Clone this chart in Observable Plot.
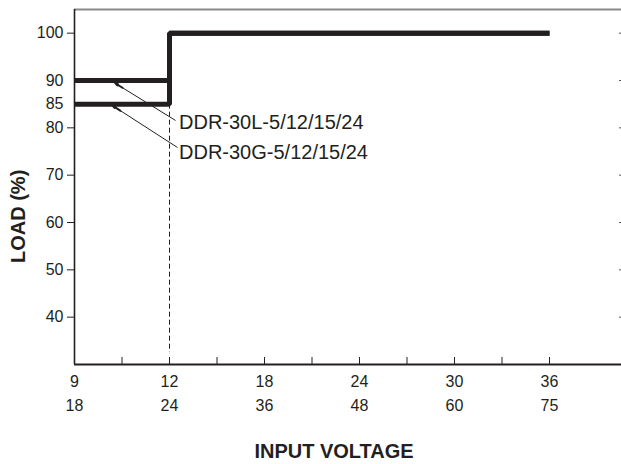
<!DOCTYPE html>
<html>
<head>
<meta charset="utf-8">
<script src="https://cdn.jsdelivr.net/npm/d3@7"></script>
<script src="https://cdn.jsdelivr.net/npm/@observablehq/plot@0.6"></script>
<style>
  html, body { margin: 0; padding: 0; background: #fff; overflow: hidden; }
  svg { display: block; max-width: none !important; }
</style>
</head>
<body>
<script>
// ---- data ----
const lowV = [9, 12, 18, 24, 30, 36];          // upper tick-label row
const highV = [18, 24, 36, 48, 60, 75];        // lower tick-label row
const minorTicks = [0, 0.5, 1, 1.5, 2, 2.5, 3, 3.5, 4, 4.5, 5]; // tick index positions
const yLabels = [40, 50, 60, 70, 80, 85, 90, 100];
const yTicksLeft = [40, 50, 60, 70, 80, 100];
const yTicksRight = [40, 50, 60, 70, 80, 90, 100];

const voltage = [9, 12, 36];
const loadL = [90, 100, 100];
const loadG = [85, 100, 100];
const models = ["DDR-30L-5/12/15/24", "DDR-30G-5/12/15/24"];

const thresholdV = [12];
const thresholdLoad = [85, 32.5];   // dashed guide from/to

// annotation anchors (x in tick-index units, y in load %)
const tipX = [0.43, 0.40], tipY = [89.4, 84.7];
const tailX = [1.06, 1.08], tailY = [81.6, 75.9];
const labelX = [1.10, 1.10], labelY = [81.1, 74.8];
const yTitleY = 61.3;

// ---- helpers ----
const idx = v => lowV.indexOf(v);
const rows = voltage.map((v, i) => ({v, L: loadL[i], G: loadG[i]}));
const notes = models.map((m, i) => ({
  m, tx: tipX[i], ty: tipY[i], sx: tailX[i], sy: tailY[i], lx: labelX[i], ly: labelY[i],
  hx: tipX[i] + 0.12 * (tailX[i] - tipX[i]), hy: tipY[i] + 0.12 * (tailY[i] - tipY[i])
}));
const ink = "#231f20";
const font = "'Liberation Sans', Arial, Helvetica, sans-serif";

const chart = Plot.plot({
  width: 632,
  height: 464,
  marginLeft: 74,
  marginRight: 7,
  marginTop: 9,
  marginBottom: 100,
  x: {domain: [0, 5.8], axis: null},
  y: {domain: [30, 105], axis: null},
  style: {fontFamily: font, color: ink, background: "#fff", maxWidth: "none"},
  marks: [
    // frame pieces
    Plot.ruleY([105], {stroke: "#8a8a8a", strokeWidth: 2}),
    Plot.ruleX([0], {stroke: ink, strokeWidth: 1.6}),
    Plot.ruleY([30], {stroke: ink, strokeWidth: 1.8}),
    // y axis ticks + labels
    Plot.axisY(yTicksLeft, {anchor: "left", tickSize: 7, tickFormat: () => "", label: null, stroke: ink}),
    Plot.axisY(yLabels, {anchor: "left", tickSize: 0, tickPadding: 11, fontSize: 16, label: null, fill: ink}),
    Plot.axisY(yTicksRight, {anchor: "right", tickSize: -7, tickFormat: () => "", label: null, stroke: "#555"}),
    // x axis ticks + two label rows
    Plot.axisX(minorTicks, {anchor: "bottom", tickSize: -7, tickFormat: () => "", label: null, stroke: ink}),
    Plot.axisX(lowV.map((_, i) => i), {anchor: "bottom", tickSize: 0, tickPadding: 11, tickFormat: i => lowV[i], fontSize: 16, label: null, fill: ink}),
    Plot.axisX(highV.map((_, i) => i), {anchor: "bottom", tickSize: 0, tickPadding: 35, tickFormat: i => highV[i], fontSize: 16, label: null, fill: ink}),
    // dashed guide
    Plot.ruleX(thresholdV, {x: idx, y1: thresholdLoad[0], y2: thresholdLoad[1], stroke: ink, strokeWidth: 1, strokeDasharray: "5,3"}),
    // load curves
    Plot.line(rows, {x: d => idx(d.v), y: "G", curve: "step-after", stroke: ink, strokeWidth: 5, strokeLinejoin: "miter", strokeLinecap: "butt"}),
    Plot.line(rows, {x: d => idx(d.v), y: "L", curve: "step-after", stroke: ink, strokeWidth: 5, strokeLinejoin: "miter", strokeLinecap: "butt"}),
    // annotations: thin leader + heavier head
    Plot.arrow(notes, {x1: "sx", y1: "sy", x2: "tx", y2: "ty", stroke: ink, strokeWidth: 1, headLength: 0}),
    Plot.arrow(notes, {x1: "hx", y1: "hy", x2: "tx", y2: "ty", stroke: ink, strokeWidth: 2, headLength: 8, headAngle: 32, strokeLinejoin: "miter"}),
    Plot.text(notes, {x: "lx", y: "ly", text: "m", textAnchor: "start", fontSize: 20, fill: ink}),
    // axis titles
    Plot.text(["INPUT VOLTAGE"], {frameAnchor: "bottom", dy: 87, dx: -16, textAnchor: "middle", lineAnchor: "middle", fontSize: 20, fontWeight: "bold", fill: ink}),
    Plot.text(["LOAD (%)"], {y: yTitleY, frameAnchor: "left", rotate: -90, dx: -56, textAnchor: "middle", lineAnchor: "middle", fontSize: 20, fontWeight: "bold", fill: ink})
  ]
});
document.body.append(chart);
</script>
</body>
</html>
